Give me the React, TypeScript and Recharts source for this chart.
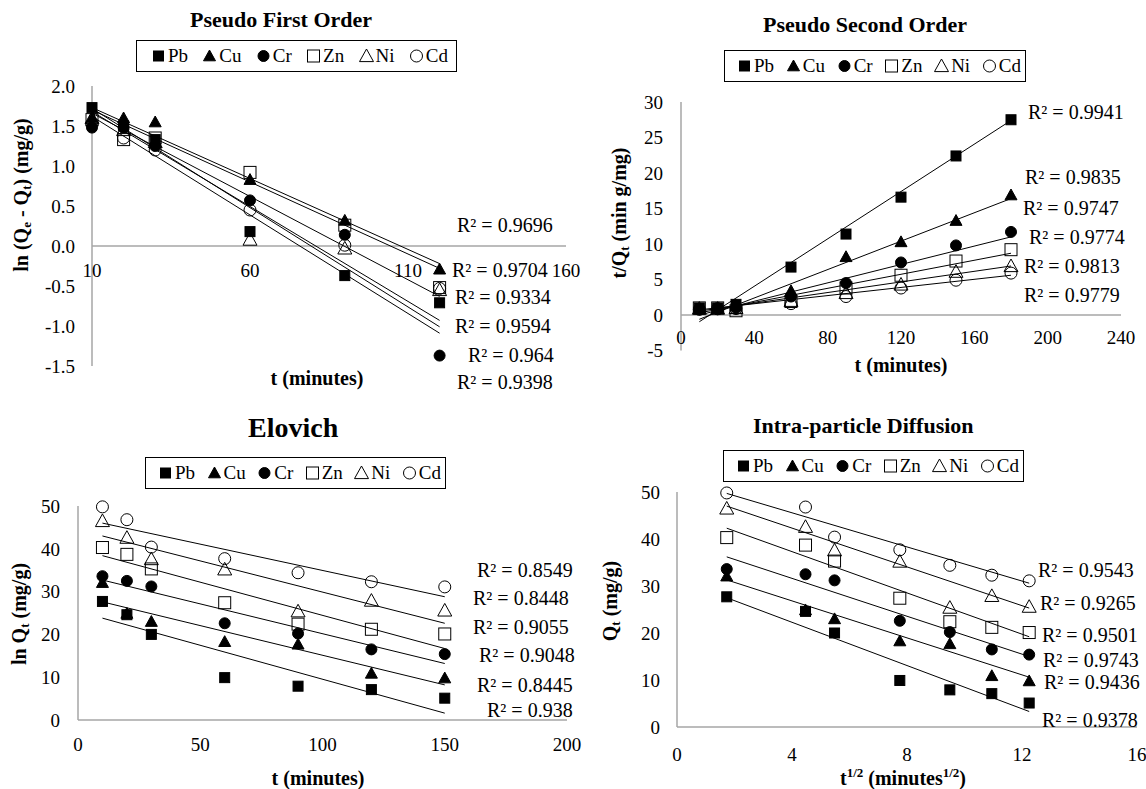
import React from "react";
import { ScatterChart, Scatter, XAxis, YAxis, ReferenceLine } from "recharts";

const W = 1146;
const H = 789;
const FONT = '"Liberation Serif", "Times New Roman", Times, serif';
const AXIS = "#a6a6a6";

const metals = ["Pb", "Cu", "Cr", "Zn", "Ni", "Cd"];

// pseudo first order, ln(Qe - Qt)
const pfoTime = [10, 20, 30, 60, 90, 120];
const pfoPb = [1.73, 1.5, 1.33, 0.18, -0.37, -0.71];
const pfoCu = [1.6, 1.6, 1.55, 0.83, 0.32, -0.29];
const pfoCr = [1.48, 1.48, 1.25, 0.57, 0.14, -1.37];
const pfoZn = [1.58, 1.33, 1.35, 0.92, 0.26, -0.52];
const pfoNi = [1.6, 1.45, 1.3, 0.08, -0.03, -0.55];
const pfoCd = [1.52, 1.35, 1.2, 0.45, 0.01, -0.53];
const pfoFitStart = [1.72, 1.73, 1.62, 1.7, 1.68, 1.66];
const pfoFitEnd = [-1.01, -0.22, -1.09, -0.28, -0.93, -0.63];
const pfoR2 = ["0.9696", "0.9704", "0.9334", "0.9594", "0.964", "0.9398"];
const pfoXTicks = [10, 60, 110, 160];
const pfoYTicks = [-1.5, -1, -0.5, 0, 0.5, 1, 1.5, 2];

// pseudo second order, t/Qt
const psoTime = [10, 20, 30, 60, 90, 120, 150, 180];
const psoPb = [1.0, 1.0, 1.5, 6.75, 11.4, 16.6, 22.4, 27.5];
const psoCu = [0.8, 0.9, 1.3, 3.4, 8.2, 10.3, 13.3, 16.9];
const psoCr = [0.8, 0.8, 1.0, 2.6, 4.5, 7.4, 9.8, 11.7];
const psoZn = [1.0, 1.0, 0.6, 1.9, 3.8, 5.6, 7.6, 9.2];
const psoNi = [0.9, 0.9, 1.0, 2.0, 3.1, 4.3, 6.1, 6.9];
const psoCd = [0.8, 0.9, 0.9, 1.6, 2.6, 3.8, 4.9, 5.9];
const psoFitStart = [-0.95, -0.6, 0.0, 0.3, 0.55, 0.73];
const psoFitEnd = [27.4, 16.4, 11.0, 8.7, 6.9, 5.6];
const psoR2 = ["0.9941", "0.9835", "0.9747", "0.9774", "0.9813", "0.9779"];
const psoXTicks = [0, 40, 80, 120, 160, 200, 240];
const psoYTicks = [-5, 0, 5, 10, 15, 20, 25, 30];

// Qt, shared by Elovich and intra-particle diffusion
const qtTime = [10, 20, 30, 60, 90, 120, 150];
const qtRoot = [1.73, 4.47, 5.48, 7.75, 9.49, 10.95, 12.25];
const qtPb = [27.7, 24.6, 20.0, 9.9, 7.9, 7.1, 5.1];
const qtCu = [32.1, 24.9, 23.0, 18.3, 17.7, 10.9, 9.8];
const qtCr = [33.6, 32.5, 31.2, 22.6, 20.2, 16.5, 15.4];
const qtZn = [40.3, 38.7, 35.3, 27.4, 22.4, 21.2, 20.1];
const qtNi = [46.5, 42.6, 37.6, 35.2, 25.4, 27.9, 25.6];
const qtCd = [49.8, 46.8, 40.4, 37.7, 34.4, 32.3, 31.1];

const eloFitStart = [23.8, 27.6, 32.7, 38.4, 43.0, 46.0];
const eloFitEnd = [1.6, 8.2, 13.2, 16.7, 22.6, 28.8];
const eloR2 = ["0.8549", "0.8448", "0.9055", "0.9048", "0.8445", "0.938"];
const eloXTicks = [0, 50, 100, 150, 200];

const ipdFitStart = [27.5, 31.3, 36.2, 42.3, 47.0, 49.7];
const ipdFitEnd = [3.3, 10.6, 15.0, 19.2, 25.3, 30.6];
const ipdR2 = ["0.9543", "0.9265", "0.9501", "0.9743", "0.9436", "0.9378"];
const ipdXTicks = [0, 4, 8, 12, 16];
const qtYTicks = [0, 10, 20, 30, 40, 50];

const markerStyles = [
  { kind: "square", filled: true },
  { kind: "triangle", filled: true },
  { kind: "circle", filled: true },
  { kind: "square", filled: false },
  { kind: "triangle", filled: false },
  { kind: "circle", filled: false },
];

function Marker({ cx, cy, kind, filled }: { cx?: number; cy?: number; kind: string; filled: boolean }) {
  if (cx == null || cy == null) return null;
  const fill = filled ? "#000" : "none";
  if (kind === "square") {
    const s = filled ? 10 : 12;
    return <rect x={cx - s / 2} y={cy - s / 2} width={s} height={s} fill={fill} stroke="#000" strokeWidth={1} />;
  }
  if (kind === "circle") {
    return <circle cx={cx} cy={cy} r={filled ? 5.5 : 6} fill={fill} stroke="#000" strokeWidth={1} />;
  }
  const h = filled ? 6 : 7;
  return (
    <polygon
      points={`${cx},${cy - h} ${cx + h},${cy + h * 0.8} ${cx - h},${cy + h * 0.8}`}
      fill={fill}
      stroke="#000"
      strokeWidth={1}
    />
  );
}

type ChartProps = {
  plot: { left: number; right: number; top: number; bottom: number };
  xDomain: [number, number];
  yDomain: [number, number];
  xTicks: number[];
  yTicks: number[];
  yFormat?: (v: number) => string;
  xAtZero: boolean;
  xTickGap: number;
  yTickGap: number;
  xs: number[];
  ys: number[][];
  fitX: [number, number];
  fitStart: number[];
  fitEnd: number[];
};

function KineticChart(p: ChartProps) {
  const yAxisWidth = 60;
  const xAxisHeight = p.xAtZero ? 0 : 30;
  const margin = {
    top: p.plot.top,
    right: W - p.plot.right,
    bottom: H - p.plot.bottom - xAxisHeight,
    left: p.plot.left - yAxisWidth,
  };
  const tickStyle = { fill: "#000", fontSize: 19, fontFamily: FONT };
  return (
    <div style={{ position: "absolute", left: 0, top: 0 }}>
      <ScatterChart width={W} height={H} margin={margin}>
        <XAxis
          type="number"
          dataKey="x"
          domain={p.xDomain}
          ticks={p.xTicks}
          interval={0}
          hide={p.xAtZero}
          height={30}
          axisLine={{ stroke: AXIS, strokeWidth: 1.5 }}
          tickLine={false}
          tickSize={0}
          tickMargin={p.xTickGap}
          tick={tickStyle}
        />
        <YAxis
          type="number"
          dataKey="y"
          domain={p.yDomain}
          ticks={p.yTicks}
          interval={0}
          width={yAxisWidth}
          axisLine={{ stroke: AXIS, strokeWidth: 1.5 }}
          tickLine={false}
          tickSize={0}
          tickMargin={p.yTickGap}
          tick={tickStyle}
          tickFormatter={p.yFormat}
        />
        {p.xAtZero && <ReferenceLine y={0} stroke={AXIS} strokeWidth={1.5} />}
        {p.fitStart.map((s, i) => (
          <ReferenceLine
            key={"fit" + i}
            segment={[
              { x: p.fitX[0], y: s },
              { x: p.fitX[1], y: p.fitEnd[i] },
            ]}
            stroke="#000"
            strokeWidth={1}
          />
        ))}
        {p.ys.map((ys, i) => (
          <Scatter
            key={metals[i]}
            name={metals[i]}
            data={p.xs.map((x, j) => ({ x, y: ys[j] }))}
            isAnimationActive={false}
            shape={(sp: any) => <Marker cx={sp.cx} cy={sp.cy} {...markerStyles[i]} />}
          />
        ))}
        {p.xAtZero && (
          <Scatter
            data={p.xTicks.map((t) => ({ x: t, y: 0 }))}
            isAnimationActive={false}
            shape={(sp: any) => (
              <text
                x={sp.cx}
                y={sp.cy + p.xTickGap}
                textAnchor="middle"
                dominantBaseline="central"
                fontSize={19}
                fontFamily={FONT}
                fill="#000"
              >
                {sp.payload.x}
              </text>
            )}
          />
        )}
      </ScatterChart>
    </div>
  );
}

function Txt({
  x,
  y,
  size = 19,
  bold = false,
  anchor = "start",
  rotate = false,
  children,
}: {
  x: number;
  y: number;
  size?: number;
  bold?: boolean;
  anchor?: "start" | "middle" | "end";
  rotate?: boolean;
  children: React.ReactNode;
}) {
  const tx = anchor === "middle" ? "-50%" : anchor === "end" ? "-100%" : "0";
  return (
    <div
      style={{
        position: "absolute",
        left: x,
        top: y,
        transform: rotate ? "translate(-50%, -50%) rotate(-90deg)" : `translate(${tx}, -50%)`,
        fontFamily: FONT,
        fontSize: size,
        fontWeight: bold ? 700 : 400,
        whiteSpace: "nowrap",
        lineHeight: 1,
        color: "#000",
      }}
    >
      {children}
    </div>
  );
}

const Sub = ({ children }: { children: React.ReactNode }) => (
  <span style={{ fontSize: "0.65em", verticalAlign: "-0.25em" }}>{children}</span>
);
const Sup = ({ children }: { children: React.ReactNode }) => (
  <span style={{ fontSize: "0.65em", verticalAlign: "0.55em" }}>{children}</span>
);

function LegendBox({ x, y, w, padL, padR }: { x: number; y: number; w: number; padL: number; padR: number }) {
  return (
    <div
      style={{
        position: "absolute",
        left: x,
        top: y,
        width: w,
        height: 32,
        boxSizing: "border-box",
        border: "1px solid #000",
        display: "flex",
        alignItems: "center",
        justifyContent: "space-between",
        padding: `0 ${padR}px 0 ${padL}px`,
        fontFamily: FONT,
        fontSize: 19,
      }}
    >
      {metals.map((m, i) => (
        <span key={m} style={{ display: "flex", alignItems: "center" }}>
          <svg width={15} height={16}>
            <Marker cx={7.5} cy={8} {...markerStyles[i]} />
          </svg>
          <span style={{ marginLeft: 2 }}>{m}</span>
        </span>
      ))}
    </div>
  );
}

function R2List({ items, pos }: { items: string[]; pos: number[][] }) {
  return (
    <>
      {items.map((r, i) => (
        <Txt key={r + i} x={pos[i][0]} y={pos[i][1]} size={20}>
          R² = {r}
        </Txt>
      ))}
    </>
  );
}

export default function App() {
  return (
    <div style={{ position: "absolute", left: 0, top: 0, width: W, height: H, background: "#fff", overflow: "hidden" }}>
      <KineticChart
        plot={{ left: 92, right: 566, top: 86, bottom: 366 }}
        xDomain={[10, 160]}
        yDomain={[-1.5, 2]}
        xTicks={pfoXTicks}
        yTicks={pfoYTicks}
        yFormat={(v) => v.toFixed(1)}
        xAtZero
        xTickGap={24}
        yTickGap={17}
        xs={pfoTime}
        ys={[pfoPb, pfoCu, pfoCr, pfoZn, pfoNi, pfoCd]}
        fitX={[10, 120]}
        fitStart={pfoFitStart}
        fitEnd={pfoFitEnd}
      />
      <KineticChart
        plot={{ left: 681, right: 1121, top: 102, bottom: 350.5 }}
        xDomain={[0, 240]}
        yDomain={[-5, 30]}
        xTicks={psoXTicks}
        yTicks={psoYTicks}
        xAtZero
        xTickGap={22}
        yTickGap={18}
        xs={psoTime}
        ys={[psoPb, psoCu, psoCr, psoZn, psoNi, psoCd]}
        fitX={[10, 180]}
        fitStart={psoFitStart}
        fitEnd={psoFitEnd}
      />
      <KineticChart
        plot={{ left: 78, right: 567, top: 506, bottom: 720 }}
        xDomain={[0, 200]}
        yDomain={[0, 50]}
        xTicks={eloXTicks}
        yTicks={qtYTicks}
        xAtZero={false}
        xTickGap={18}
        yTickGap={18}
        xs={qtTime}
        ys={[qtPb, qtCu, qtCr, qtZn, qtNi, qtCd]}
        fitX={[10, 150]}
        fitStart={eloFitStart}
        fitEnd={eloFitEnd}
      />
      <KineticChart
        plot={{ left: 677, right: 1137, top: 492, bottom: 727 }}
        xDomain={[0, 16]}
        yDomain={[0, 50]}
        xTicks={ipdXTicks}
        yTicks={qtYTicks}
        xAtZero={false}
        xTickGap={21}
        yTickGap={17}
        xs={qtRoot}
        ys={[qtPb, qtCu, qtCr, qtZn, qtNi, qtCd]}
        fitX={[1.73, 12.25]}
        fitStart={ipdFitStart}
        fitEnd={ipdFitEnd}
      />

      {/* titles */}
      <Txt x={190} y={20} size={22} bold>Pseudo First Order</Txt>
      <Txt x={763} y={25} size={22} bold>Pseudo Second Order</Txt>
      <Txt x={248} y={428} size={28} bold>Elovich</Txt>
      <Txt x={753} y={426} size={22} bold>Intra-particle Diffusion</Txt>

      {/* legends */}
      <LegendBox x={136} y={40} w={321} padL={14} padR={8} />
      <LegendBox x={724} y={50} w={302} padL={12} padR={4} />
      <LegendBox x={145} y={457} w={301} padL={12} padR={4} />
      <LegendBox x={723} y={450} w={301} padL={12} padR={4} />

      {/* axis titles */}
      <Txt x={317} y={378} size={20} bold anchor="middle">t (minutes)</Txt>
      <Txt x={22} y={195} size={20} bold rotate>
        ln (Q<Sub>e</Sub> - Q<Sub>t</Sub>) (mg/g)
      </Txt>
      <Txt x={901} y={365} size={20} bold anchor="middle">t (minutes)</Txt>
      <Txt x={620} y={213} size={20} bold rotate>
        t/Q<Sub>t</Sub> (min g/mg)
      </Txt>
      <Txt x={318} y={778} size={20} bold anchor="middle">t (minutes)</Txt>
      <Txt x={20} y={614} size={20} bold rotate>
        ln Q<Sub>t</Sub> (mg/g)
      </Txt>
      <Txt x={903} y={777} size={20} bold anchor="middle">
        t<Sup>1/2</Sup> (minutes<Sup>1/2</Sup>)
      </Txt>
      <Txt x={611} y={601} size={20} bold rotate>
        Q<Sub>t</Sub> (mg/g)
      </Txt>

      {/* R² labels */}
      <R2List items={pfoR2} pos={[[457, 225], [452, 270], [455, 297], [455, 326], [468, 355], [457, 382]]} />
      <R2List items={psoR2} pos={[[1028, 112], [1025, 177], [1023, 208], [1029, 237], [1024, 266], [1024, 295]]} />
      <R2List items={eloR2} pos={[[477, 570], [473, 598], [473, 627], [479, 655], [477, 685], [487, 710]]} />
      <R2List items={ipdR2} pos={[[1038, 570], [1040, 603], [1042, 635], [1043, 660], [1044, 682], [1042, 720]]} />
    </div>
  );
}
